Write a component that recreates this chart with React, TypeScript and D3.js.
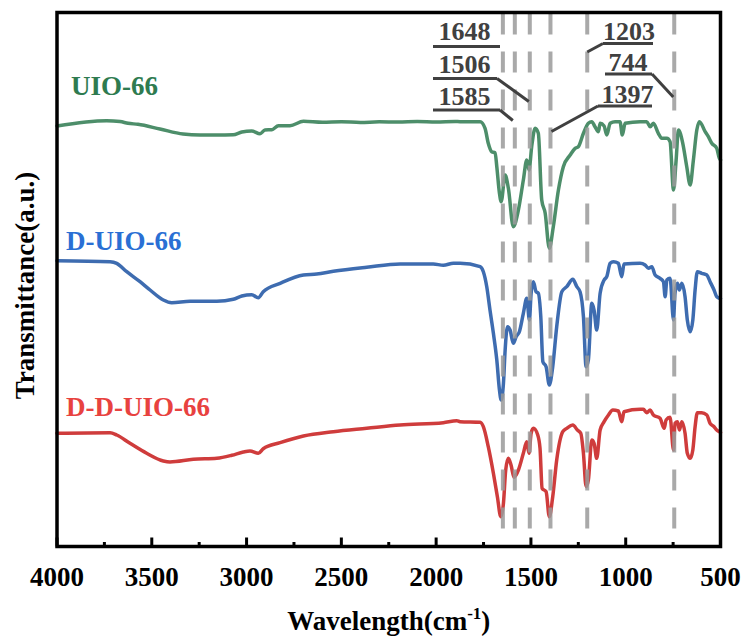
import React from "react";
import * as d3 from "d3";

// ---- Data (wavenumber in cm-1, transmittance in arbitrary offset units) ----
const wnUIO = [4000, 3738, 3668, 3625, 3573, 3457, 3335, 3245, 3157, 3071, 3025, 2973, 2929, 2903, 2867, 2832, 2771, 2700, 2600, 2500, 2400, 2300, 2200, 2100, 2000, 1900, 1874, 1768, 1742, 1725, 1707, 1689, 1680, 1666, 1657, 1636, 1619, 1593, 1566, 1540, 1522, 1510, 1496, 1478, 1461, 1443, 1425, 1403, 1382, 1355, 1329, 1293, 1267, 1250, 1223, 1197, 1179, 1162, 1144, 1135, 1114, 1100, 1082, 1056, 1030, 1018, 1003, 924, 889, 871, 854, 828, 810, 783, 766, 748, 734, 722, 699, 678, 660, 643, 625, 611, 581, 564, 546, 520, 506, 500];
const tUIO = [420.5, 425.8, 425, 423.2, 422.2, 417.5, 412.5, 411.5, 411.5, 411.8, 414.5, 415.5, 412.8, 416.5, 416.8, 420.8, 420.8, 425.2, 424.2, 424.8, 424, 424.7, 424.5, 425, 424.5, 425, 424.8, 424.8, 418.2, 403.2, 394.8, 393.8, 379.8, 353.2, 344.8, 371.5, 358.2, 319.8, 336.5, 366.5, 386.5, 376.5, 399.8, 418.2, 413.2, 346.5, 333.5, 298.2, 319.8, 356.5, 379.8, 391.5, 398.2, 399.8, 413.2, 423.2, 424.8, 419.8, 414.8, 423.2, 420.5, 411.5, 423.2, 424.8, 424.8, 411.5, 423.2, 424.8, 424.8, 419.8, 423.2, 413.2, 408.2, 408.2, 404.8, 356.5, 386.5, 416.5, 403.2, 379.8, 361.5, 386.5, 416.5, 424.8, 414.8, 409.8, 403.2, 398.2, 388.2, 386.5];

const wnD = [4000, 3720, 3685, 3632, 3562, 3509, 3439, 3395, 3298, 3157, 3070, 3025, 2973, 2938, 2912, 2823, 2700, 2630, 2542, 2366, 2190, 2015, 1962, 1909, 1874, 1768, 1751, 1733, 1716, 1698, 1680, 1666, 1657, 1645, 1636, 1624, 1610, 1593, 1578, 1561, 1540, 1522, 1508, 1499, 1487, 1473, 1461, 1448, 1437, 1420, 1403, 1385, 1364, 1337, 1311, 1279, 1258, 1241, 1223, 1209, 1197, 1179, 1167, 1153, 1135, 1114, 1100, 1082, 1065, 1039, 1021, 1009, 924, 898, 880, 862, 845, 819, 801, 792, 783, 766, 748, 740, 727, 717, 704, 687, 675, 660, 646, 634, 622, 599, 572, 555, 534, 520, 506, 500];
const tD = [285.8, 284.8, 283.2, 274.8, 264.8, 256.5, 246.5, 243.8, 245.2, 245.2, 247.2, 250.5, 251.8, 248.8, 254.8, 263.2, 271.5, 272.5, 275.2, 279.2, 282.5, 282.5, 281.2, 283.2, 283.2, 279.8, 274.8, 259.8, 236.5, 213.2, 186.5, 156.5, 146.5, 163.2, 196.5, 219.8, 216.5, 203.2, 209.8, 214.8, 233.2, 248.2, 226.5, 253.2, 264.8, 254.8, 253.2, 229.8, 184.8, 179.8, 161.5, 179.8, 219.8, 254.8, 259.8, 267.2, 259.8, 254.8, 229.8, 179.8, 186.5, 243.2, 236.5, 216.5, 253.2, 266.5, 269.8, 283.2, 284.8, 283.2, 269.8, 282.5, 283.2, 281.5, 278.2, 279.8, 271.5, 268.2, 264.8, 249.8, 266.5, 268.2, 226.5, 253.2, 263.2, 256.5, 263.2, 249.8, 226.5, 214.8, 226.5, 256.5, 274.8, 273.2, 271.5, 264.8, 256.5, 249.8, 248.2, 248];

const wnDD = [4000, 3720, 3685, 3615, 3527, 3439, 3404, 3281, 3157, 3078, 3017, 2982, 2938, 2912, 2823, 2700, 2542, 2366, 2190, 1962, 1891, 1874, 1768, 1751, 1725, 1698, 1677, 1659, 1645, 1633, 1619, 1605, 1589, 1566, 1540, 1522, 1510, 1499, 1487, 1464, 1452, 1441, 1420, 1403, 1385, 1364, 1332, 1311, 1279, 1255, 1237, 1223, 1209, 1197, 1179, 1167, 1153, 1135, 1114, 1091, 1068, 1039, 1021, 1009, 924, 907, 889, 871, 854, 819, 797, 787, 766, 748, 740, 727, 717, 704, 687, 675, 660, 646, 634, 622, 599, 572, 555, 534, 520, 506, 500];
const tDD = [113.2, 113.8, 111.5, 103.2, 93.2, 85.5, 84.5, 87.2, 88.2, 91.2, 94.5, 95.5, 93.2, 97.8, 103.8, 110.5, 114.8, 118.2, 121.5, 123.8, 125.8, 124.8, 124.2, 119.8, 99.8, 73.2, 49.8, 29.8, 43.2, 76.5, 88.2, 81.5, 69.2, 76.5, 93.2, 104.8, 93.2, 113.2, 118.2, 111.5, 98.2, 58.2, 54.8, 29.8, 49.8, 86.5, 114.8, 118.2, 121.5, 116.5, 113.2, 93.2, 59.8, 66.5, 106.5, 103.2, 88.2, 116.5, 124.8, 131.5, 136.5, 135.5, 124.8, 134.8, 137.2, 137.2, 133.8, 136.5, 131.5, 128.2, 118.2, 126.5, 129.2, 96.5, 123.2, 124.8, 116.5, 124.8, 113.2, 93.2, 88.2, 96.5, 119.8, 133.8, 133.8, 131.5, 123.2, 119.8, 116.5, 114.8, 114];

const seriesNames = ["UIO-66", "D-UIO-66", "D-D-UIO-66"];
const peakPositions = [1648, 1585, 1506, 1397, 1203, 744];
const peakLabels = ["1648", "1585", "1506", "1397", "1203", "744"];
const xTicks = [4000, 3500, 3000, 2500, 2000, 1500, 1000, 500];
const xMinorTicks = [3750, 3250, 2750, 2250, 1750, 1250, 750];

const FONT = "'Liberation Serif', 'Times New Roman', Times, serif";

export default function App() {
  const W = 746, H = 638;
  const L = 57, R = 720.5, T = 12.5, B = 546.5;
  const x = d3.scaleLinear().domain([4000, 500]).range([L, R]);
  const y = d3.scaleLinear().domain([0, 534]).range([B, T]);

  const line = d3
    .line<[number, number]>()
    .x((d) => x(d[0]))
    .y((d) => y(d[1]))
    .curve(d3.curveMonotoneX);

  const series = [
    { name: seriesNames[0], wn: wnUIO, t: tUIO, color: "#4d8e6a", labelColor: "#2e7b50", lx: 71, ly: 95 },
    { name: seriesNames[1], wn: wnD, t: tD, color: "#3e6cb0", labelColor: "#2a6fd4", lx: 66, ly: 250 },
    { name: seriesNames[2], wn: wnDD, t: tDD, color: "#cf3c3c", labelColor: "#e8423f", lx: 66, ly: 416 },
  ];

  // annotation layout (positions only)
  const annLayout: Record<string, any> = {
    "1648": { cx: 464.5, by: 39.5, uy: 46.5, u0: 433, u1: 500, leader: null },
    "1506": { cx: 464.5, by: 72.5, uy: 78.5, u0: 433, u1: 497, leader: { from: "end", ty: 101.5, dx: -1 } },
    "1585": { cx: 464.5, by: 104.5, uy: 110, u0: 433, u1: 500, leader: { from: "end", ty: 120.5, dx: -2 } },
    "1203": { cx: 629, by: 39.5, uy: 43.5, u0: 603, u1: 653, leader: { from: "start", ty: 52, dx: 0 } },
    "744": { cx: 628, by: 71, uy: 74, u0: 605, u1: 652, leader: { from: "end", ty: 97, dx: -1 } },
    "1397": { cx: 627.5, by: 103, uy: 106, u0: 598, u1: 652, leader: { from: "start", ty: 131.5, dx: 1 } },
  };

  return (
    <svg width={W} height={H} style={{ position: "absolute", left: 0, top: 0, background: "#fff" }}>
      <rect x={0} y={0} width={W} height={H} fill="#fff" />
      {/* curves */}
      {series.map((s) => (
        <path
          key={s.name}
          d={line(s.wn.map((w, i) => [w, s.t[i]] as [number, number])) || ""}
          fill="none"
          stroke={s.color}
          strokeWidth={3.5}
          strokeLinejoin="round"
          strokeLinecap="round"
        />
      ))}
      {/* dashed peak lines */}
      {peakPositions.map((p) => (
        <line
          key={"p" + p}
          x1={x(p)}
          x2={x(p)}
          y1={T + 1}
          y2={B}
          stroke="#9a9a9a"
          strokeOpacity={0.85}
          strokeWidth={4}
          strokeDasharray="21 17"
        />
      ))}
      {/* series labels */}
      {series.map((s) => (
        <text
          key={"l" + s.name}
          x={s.lx}
          y={s.ly}
          fontFamily={FONT}
          fontWeight="bold"
          fontSize={27}
          fill={s.labelColor}
        >
          {s.name}
        </text>
      ))}
      {/* annotations */}
      {peakLabels.map((lab, i) => {
        const a = annLayout[lab];
        const px = x(peakPositions[i]);
        let leader = null;
        if (a.leader) {
          const sx = a.leader.from === "end" ? a.u1 : a.u0;
          leader = (
            <line x1={sx} y1={a.uy} x2={px + a.leader.dx} y2={a.leader.ty} stroke="#404040" strokeWidth={3} />
          );
        }
        return (
          <g key={"a" + lab}>
            <text
              x={a.cx}
              y={a.by}
              textAnchor="middle"
              fontFamily={FONT}
              fontWeight="bold"
              fontSize={26}
              fill="#404040"
            >
              {lab}
            </text>
            <line x1={a.u0} x2={a.u1} y1={a.uy} y2={a.uy} stroke="#404040" strokeWidth={3} />
            {leader}
          </g>
        );
      })}
      {/* frame */}
      <rect x={L} y={T} width={R - L} height={B - T} fill="none" stroke="#000" strokeWidth={3.5} />
      {/* ticks */}
      {xTicks.map((t) => (
        <line key={"t" + t} x1={x(t)} x2={x(t)} y1={B} y2={B - 9} stroke="#000" strokeWidth={3} />
      ))}
      {xMinorTicks.map((t) => (
        <line key={"m" + t} x1={x(t)} x2={x(t)} y1={B} y2={B - 4.5} stroke="#000" strokeWidth={3} />
      ))}
      {xTicks.map((t) => (
        <text
          key={"tl" + t}
          x={x(t)}
          y={586}
          textAnchor="middle"
          fontFamily={FONT}
          fontWeight="bold"
          fontSize={27}
          fill="#000"
        >
          {t}
        </text>
      ))}
      {/* axis titles */}
      <text x={(L + R) / 2} y={630} textAnchor="middle" fontFamily={FONT} fontWeight="bold" fontSize={27} fill="#000">
        Wavelength(cm
        <tspan fontSize={17} dy={-11}>-1</tspan>
        <tspan dy={11}>)</tspan>
      </text>
      <text
        transform={`translate(34, ${(T + B) / 2 + 6}) rotate(-90)`}
        textAnchor="middle"
        fontFamily={FONT}
        fontWeight="bold"
        fontSize={27}
        fill="#000"
      >
        Transmittance(a.u.)
      </text>
    </svg>
  );
}
